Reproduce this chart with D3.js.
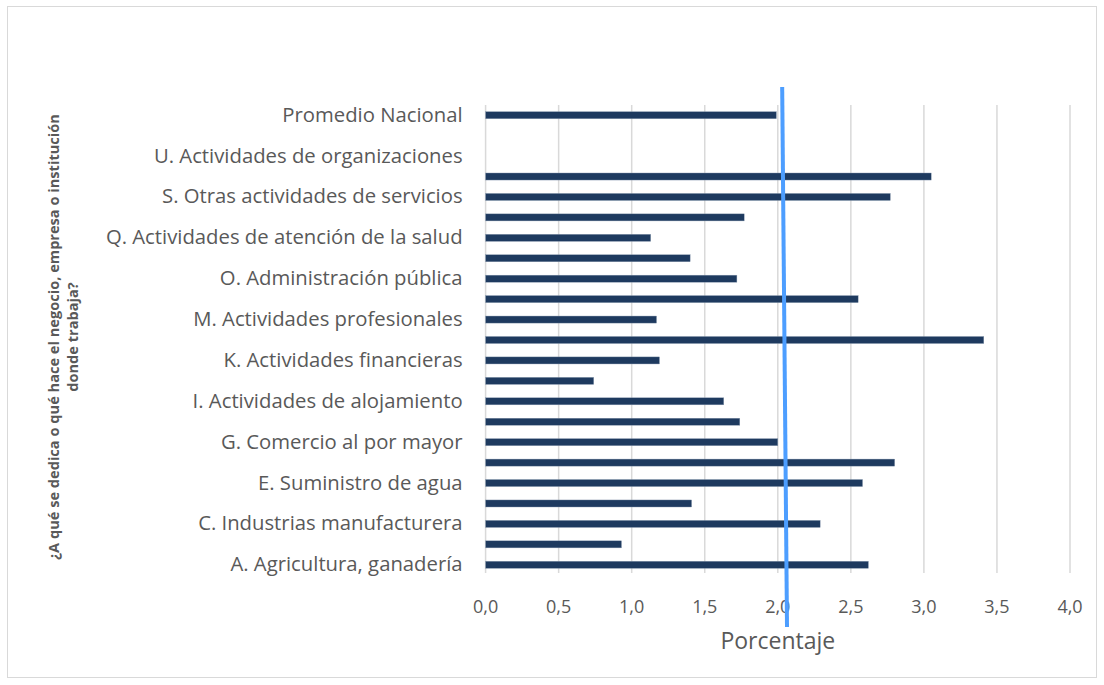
<!DOCTYPE html>
<html>
<head>
<meta charset="utf-8">
<script src="https://cdn.jsdelivr.net/npm/d3@7"></script>
<style>
  html, body { margin: 0; padding: 0; background: #fff; }
  svg { display: block; }
</style>
</head>
<body>
<svg id="chart" width="1104" height="685"></svg>
<script>
// ---- data (bottom to top, as in the reference) ----
const categories = [
  "A. Agricultura, ganadería",
  "B. Explotación de minas y canteras",
  "C. Industrias manufacturera",
  "D. Suministro de electricidad",
  "E. Suministro de agua",
  "F. Construcción",
  "G. Comercio al por mayor",
  "H. Transporte y almacenamiento",
  "I. Actividades de alojamiento",
  "J. Información y comunicaciones",
  "K. Actividades financieras",
  "L. Actividades inmobiliarias",
  "M. Actividades profesionales",
  "N. Actividades de servicios administrativos",
  "O. Administración pública",
  "P. Enseñanza",
  "Q. Actividades de atención de la salud",
  "R. Actividades artísticas",
  "S. Otras actividades de servicios",
  "T. Actividades de los hogares",
  "U. Actividades de organizaciones",
  "Otro",
  "Promedio Nacional"
];
const values = [2.62, 0.93, 2.29, 1.41, 2.58, 2.80, 2.00, 1.74, 1.63, 0.74, 1.19, 3.41,
                1.17, 2.55, 1.72, 1.40, 1.13, 1.77, 2.77, 3.05, null, null, 1.99];
const xTicks = [0, 0.5, 1, 1.5, 2, 2.5, 3, 3.5, 4];
const referenceLine = [2.03, 2.063]; // top, bottom (slightly tilted drawn line)
const xTitle = "Porcentaje";
const yTitleLines = ["¿A qué se dedica o qué hace el negocio, empresa o institución", "donde trabaja?"];

// ---- layout ----
const svg = d3.select("#chart");
const plot = { left: 485.6, right: 1070, top: 105, bottom: 575 };
const textColor = "#595959";
const barColor = "#1e3a5f";
const font = "'Open Sans', 'Noto Sans', sans-serif";

// chart border
svg.append("rect")
  .attr("x", 7.5).attr("y", 6.5)
  .attr("width", 1089).attr("height", 671)
  .attr("fill", "#fff").attr("stroke", "#d9d9d9").attr("stroke-width", 1);

const x = d3.scaleLinear().domain([0, 4]).range([plot.left, plot.right]);
const p = 0.655;
const y = d3.scaleBand()
  .domain(categories.slice().reverse())
  .range([plot.top, plot.bottom])
  .paddingInner(p).paddingOuter(p / 2);

// gridlines
svg.append("g").selectAll("line").data(xTicks).join("line")
  .attr("x1", d => x(d)).attr("x2", d => x(d))
  .attr("y1", plot.top).attr("y2", plot.bottom - 2)
  .attr("stroke", "#d9d9d9").attr("stroke-width", 1.5);

// bars
const data = categories.map((c, i) => ({ c, v: values[i] })).filter(d => d.v != null);
svg.append("g").selectAll("rect").data(data).join("rect")
  .attr("x", x(0))
  .attr("y", d => y(d.c))
  .attr("width", d => x(d.v) - x(0))
  .attr("height", y.bandwidth())
  .attr("fill", barColor)
  .attr("stroke", "#8a9bb0").attr("stroke-width", 0.4);

// category labels (every other one, as in the reference)
const shown = categories.filter((c, i) => i % 2 === 0);
svg.append("g").selectAll("text").data(shown).join("text")
  .attr("x", plot.left - 23)
  .attr("y", d => y(d) + y.bandwidth() / 2 - 1.5)
  .attr("text-anchor", "end")
  .attr("dominant-baseline", "central")
  .attr("font-family", font)
  .attr("font-size", 20.3)
  .attr("fill", textColor)
  .text(d => d);

// x tick labels
const fmt = d => d3.format(".1f")(d).replace(".", ",");
svg.append("g").selectAll("text").data(xTicks).join("text")
  .attr("x", d => x(d))
  .attr("y", 606)
  .attr("text-anchor", "middle")
  .attr("dominant-baseline", "central")
  .attr("font-family", font)
  .attr("font-size", 18)
  .attr("fill", textColor)
  .text(fmt);

// x axis title
svg.append("text")
  .attr("x", x(2)).attr("y", 640)
  .attr("text-anchor", "middle")
  .attr("dominant-baseline", "central")
  .attr("font-family", font)
  .attr("font-size", 23)
  .attr("fill", textColor)
  .text(xTitle);

// y axis title (rotated, two lines, bold)
const yt = svg.append("text")
  .attr("transform", "translate(54,337) rotate(-90)")
  .attr("text-anchor", "middle")
  .attr("font-family", font)
  .attr("font-weight", "bold")
  .attr("font-size", 14.6)
  .attr("fill", textColor);
yTitleLines.forEach((t, i) => {
  yt.append("tspan").attr("x", 0).attr("dy", i === 0 ? "0.35em" : 19).text(t);
});

// reference (average) line drawn on top
svg.append("line")
  .attr("x1", x(referenceLine[0])).attr("y1", plot.top - 18)
  .attr("x2", x(referenceLine[1])).attr("y2", plot.bottom + 52)
  .attr("stroke", "#4d9eff").attr("stroke-width", 4);
</script>
</body>
</html>
